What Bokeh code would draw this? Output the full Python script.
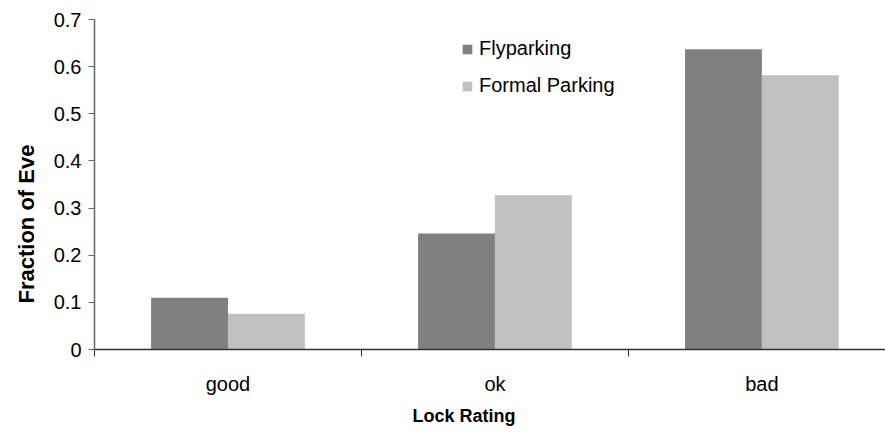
from bokeh.plotting import figure
from bokeh.models import Range1d, FixedTicker, Legend, Title
from bokeh.embed import file_html
from bokeh.resources import INLINE

categories = ["good", "ok", "bad"]
flyparking = [0.110, 0.246, 0.637]
formal_parking = [0.076, 0.327, 0.582]
y_ticks = [0, 0.1, 0.2, 0.3, 0.4, 0.5, 0.6, 0.7]
y_tick_labels = ["0", "0.1", "0.2", "0.3", "0.4", "0.5", "0.6", "0.7"]
series_names = ["Flyparking", "Formal Parking"]
x_title = "Lock Rating"
y_title = "Fraction of Eve"

FONT = "Liberation Sans"
BAR_W = 0.288

p = figure(width=885, height=434, output_backend="svg", toolbar_location=None,
           x_range=Range1d(0, 2.963), y_range=Range1d(0, 0.7),
           min_border_left=94, min_border_right=0, min_border_top=19, min_border_bottom=85)
p.outline_line_color = None
p.xgrid.visible = False
p.ygrid.visible = False
p.background_fill_color = "white"
p.border_fill_color = "white"

centers = [i + 0.5 for i in range(len(categories))]
r1 = p.vbar(x=[c - BAR_W / 2 for c in centers], top=flyparking, width=BAR_W, bottom=0,
            fill_color="#808080", line_color=None)
r2 = p.vbar(x=[c + BAR_W / 2 for c in centers], top=formal_parking, width=BAR_W, bottom=0,
            fill_color="#C0C0C0", line_color=None)

# x axis: labels at category centres, tick marks at category boundaries
xa = p.xaxis[0]
xa.ticker = FixedTicker(ticks=centers, minor_ticks=list(range(len(categories) + 1)))
xa.major_label_overrides = {c: lab for c, lab in zip(centers, categories)}
xa.major_tick_out = 0
xa.major_tick_in = 0
xa.minor_tick_out = 7
xa.minor_tick_in = 0
xa.minor_tick_line_color = "#333333"
xa.minor_tick_line_width = 1
xa.axis_line_color = "#333333"
xa.axis_line_width = 1.5
xa.major_label_standoff = 16
xa.major_label_text_font = FONT
xa.major_label_text_font_size = "20px"
xa.major_label_text_color = "black"

ya = p.yaxis[0]
ya.ticker = FixedTicker(ticks=y_ticks, minor_ticks=[])
ya.major_label_overrides = {t: lab for t, lab in zip(y_ticks, y_tick_labels)}
ya.major_tick_out = 6
ya.major_tick_in = 0
ya.major_tick_line_color = "#666666"
ya.axis_line_color = "#666666"
ya.axis_line_width = 1.5
ya.minor_tick_line_color = None
ya.major_label_standoff = 7
ya.major_label_text_font = FONT
ya.major_label_text_font_size = "20px"
ya.major_label_text_color = "black"

p.add_layout(Title(text=x_title, align="left", offset=318, vertical_align="middle",
                   standoff=15, text_font=FONT, text_font_size="18px",
                   text_font_style="bold", text_color="black"), "below")
p.add_layout(Title(text=y_title, align="left", offset=46, vertical_align="top",
                   standoff=20, text_font=FONT, text_font_size="22px",
                   text_font_style="bold", text_color="black"), "left")

legend = Legend(items=[(series_names[0], [r1]), (series_names[1], [r2])],
                location=(367, 252), orientation="vertical")
legend.glyph_width = 12
legend.glyph_height = 12
legend.label_standoff = 6
legend.label_height = 23
legend.spacing = 14
legend.padding = 0
legend.margin = 0
legend.border_line_color = None
legend.background_fill_alpha = 0
legend.label_text_font = FONT
legend.label_text_font_size = "20px"
legend.label_text_color = "black"
p.add_layout(legend)

open("out.html", "w").write(file_html(p, INLINE))
